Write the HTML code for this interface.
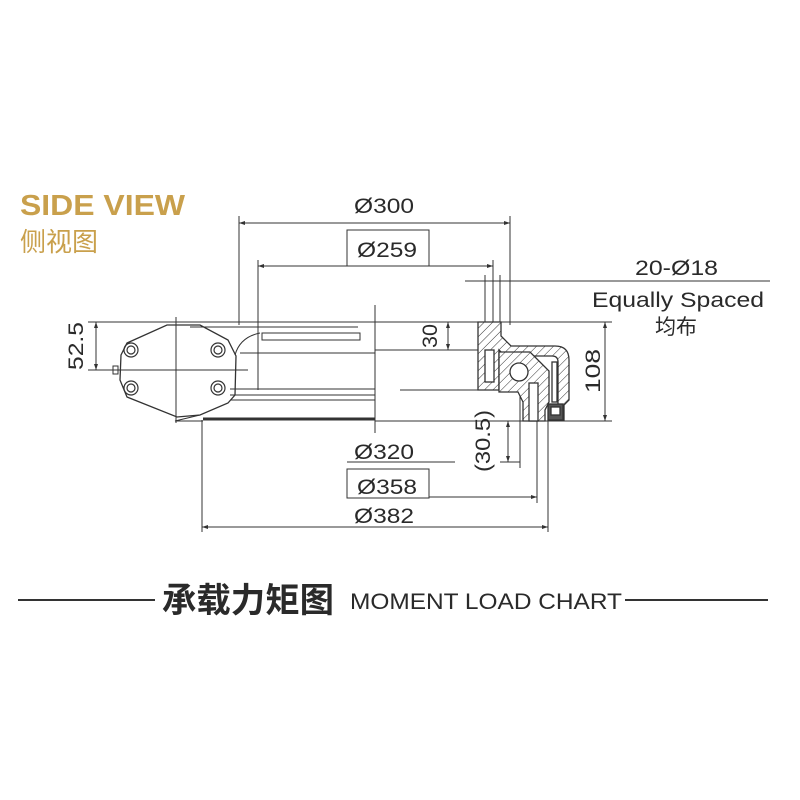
<!DOCTYPE html>
<html><head><meta charset="utf-8"><style>
html,body{margin:0;padding:0;background:#fff;}
svg{display:block}
text{font-family:"Liberation Sans","Noto Sans CJK SC",sans-serif;fill:#2a2a2a}
</style></head><body>
<svg width="800" height="800" viewBox="0 0 800 800" xmlns="http://www.w3.org/2000/svg">
<defs>
<pattern id="h" width="6" height="6" patternUnits="userSpaceOnUse" patternTransform="rotate(45)">
<rect width="6" height="6" fill="#fff"/><line x1="0" y1="0" x2="0" y2="6" stroke="#333" stroke-width="1"/>
</pattern>
<marker id="a" markerWidth="6" markerHeight="6" refX="6" refY="3" orient="auto-start-reverse"><path d="M0,1 L6,3 L0,5" fill="#333"/></marker>
</defs>
<text x="20" y="215" font-size="29" font-weight="bold" style="fill:#c9a04c" textLength="165" lengthAdjust="spacingAndGlyphs">SIDE VIEW</text>
<text x="20" y="251" font-size="26" style="fill:#c9a04c">侧视图</text>

<g stroke="#333" stroke-width="1" fill="none">
<line x1="239" y1="216" x2="239" y2="325"/><line x1="510" y1="216" x2="510" y2="275"/>
<line x1="239" y1="223" x2="510" y2="223" marker-start="url(#a)" marker-end="url(#a)"/>
<rect x="347" y="230" width="82" height="36"/>
<line x1="258" y1="260" x2="258" y2="390"/><line x1="493" y1="260" x2="493" y2="280"/>
<line x1="258" y1="266" x2="493" y2="266" marker-start="url(#a)" marker-end="url(#a)"/>
<line x1="465" y1="281" x2="770" y2="281"/>
<line x1="485" y1="275" x2="485" y2="375"/><line x1="493" y1="275" x2="493" y2="390"/>
<line x1="500" y1="275" x2="500" y2="325"/><line x1="510" y1="275" x2="510" y2="325"/>
<line x1="88" y1="322" x2="560" y2="322"/>
<line x1="88" y1="370" x2="248" y2="370"/>
<line x1="96" y1="322" x2="96" y2="370" marker-start="url(#a)" marker-end="url(#a)"/>
<line x1="176" y1="317" x2="176" y2="423"/>
<line x1="375" y1="350" x2="478" y2="350"/>
<line x1="448" y1="322" x2="448" y2="350" marker-start="url(#a)" marker-end="url(#a)"/>
<line x1="560" y1="322" x2="612" y2="322"/>
<line x1="455" y1="421" x2="612" y2="421"/>
<line x1="605" y1="322" x2="605" y2="421" marker-start="url(#a)" marker-end="url(#a)"/>
<line x1="500" y1="462" x2="520" y2="462"/>
<line x1="508" y1="421" x2="508" y2="462" marker-start="url(#a)" marker-end="url(#a)"/>
<line x1="520" y1="395" x2="520" y2="468"/>
<line x1="400" y1="390" x2="478" y2="390"/>
<line x1="375" y1="305" x2="375" y2="433"/>
<line x1="190" y1="327" x2="358" y2="327"/>
<line x1="240" y1="353" x2="375" y2="353"/>
<line x1="230" y1="389" x2="375" y2="389"/>
<line x1="230" y1="395" x2="375" y2="395"/>
<line x1="230" y1="400" x2="375" y2="400"/>
<rect x="262" y="333" width="98" height="7"/>
<path d="M235,355 Q240,337 260,333"/>
<line x1="203" y1="419" x2="375" y2="419" stroke-width="3"/>
<path d="M127,343 L167,325 L200,325 L228,340 L236,356 L235,395 L228,403 L200,415 L177,417 L127,397 L120,380 L121,355 Z" stroke-width="1.3"/>
<path d="M200,415 L175,421 L203,421"/>
<g stroke-width="1.2">
<circle cx="131" cy="350" r="7"/><circle cx="131" cy="350" r="4"/>
<circle cx="218" cy="350" r="7"/><circle cx="218" cy="350" r="4"/>
<circle cx="131" cy="388" r="7"/><circle cx="131" cy="388" r="4"/>
<circle cx="218" cy="388" r="7"/><circle cx="218" cy="388" r="4"/>
</g>
<rect x="113" y="366" width="5" height="8"/>
<line x1="375" y1="421" x2="455" y2="421"/>
<line x1="347" y1="462" x2="455" y2="462"/>
<rect x="347" y="469" width="82" height="29"/>
<line x1="429" y1="497" x2="537" y2="497" marker-end="url(#a)"/>
<line x1="537" y1="410" x2="537" y2="503"/>
<line x1="202" y1="420" x2="202" y2="532"/><line x1="548" y1="405" x2="548" y2="532"/>
<line x1="202" y1="527" x2="548" y2="527" marker-start="url(#a)" marker-end="url(#a)"/>
</g>
<g stroke="#333" stroke-width="1.3">
<path d="M478,322 H501 V336 L511,346 H555 Q569,346 569,360 V400 L564,405 V420 H558 V362 Q558,356 552,356 H505 L499,350 V390 H478 Z" fill="url(#h)"/>
<path d="M499,352 L530,352 L549,371 V402 L545,410 V421 H523 V402 L518,392 H499 Z" fill="url(#h)"/>
<rect x="485" y="350" width="9" height="32" fill="#fff"/>
<circle cx="519" cy="372" r="9" fill="#fff"/>
<rect x="529" y="383" width="9" height="38" fill="#fff"/>
<rect x="552" y="362" width="5" height="40" fill="#fff"/>
<rect x="548" y="404" width="15" height="16" fill="#555"/>
<rect x="551" y="407" width="9" height="8" fill="#fff"/>
</g>
<g font-size="21" lengthAdjust="spacingAndGlyphs">
<text x="354" y="213" textLength="60" lengthAdjust="spacingAndGlyphs">Ø300</text>
<text x="357" y="257" textLength="60" lengthAdjust="spacingAndGlyphs">Ø259</text>
<text x="635" y="275" textLength="83" lengthAdjust="spacingAndGlyphs">20-Ø18</text>
<text x="592" y="307" textLength="172" lengthAdjust="spacingAndGlyphs">Equally Spaced</text>
<text x="655" y="334">均布</text>
<text x="354" y="459" textLength="60" lengthAdjust="spacingAndGlyphs">Ø320</text>
<text x="357" y="494" textLength="60" lengthAdjust="spacingAndGlyphs">Ø358</text>
<text x="354" y="523" textLength="60" lengthAdjust="spacingAndGlyphs">Ø382</text>
<text transform="translate(83,370) rotate(-90)" textLength="48" lengthAdjust="spacingAndGlyphs">52.5</text>
<text transform="translate(437,348) rotate(-90)" textLength="24" lengthAdjust="spacingAndGlyphs">30</text>
<text transform="translate(600,393) rotate(-90)" textLength="44" lengthAdjust="spacingAndGlyphs">108</text>
<text transform="translate(490,472) rotate(-90)" textLength="62" lengthAdjust="spacingAndGlyphs">(30.5)</text>
</g>
<line x1="18" y1="600" x2="155" y2="600" stroke="#333" stroke-width="2"/>
<line x1="625" y1="600" x2="768" y2="600" stroke="#333" stroke-width="2"/>
<text x="162" y="612" font-size="34" font-weight="bold" textLength="172" lengthAdjust="spacingAndGlyphs">承载力矩图</text>
<text x="350" y="609" font-size="22" textLength="272" lengthAdjust="spacingAndGlyphs">MOMENT LOAD CHART</text>
</svg>
</body></html>
